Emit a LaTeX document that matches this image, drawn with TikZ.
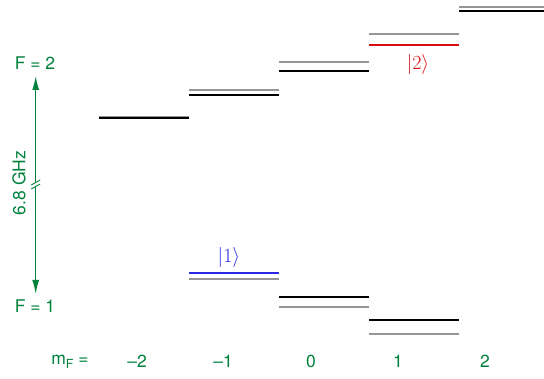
\RequirePackage{fix-cm}
\documentclass[tikz,border=0pt]{standalone}
\usepackage{fontspec}
\setsansfont{TeX Gyre Heros}
\usetikzlibrary{arrows.meta}
\definecolor{lvgreen}{RGB}{0,130,60}
\definecolor{lvred}{RGB}{215,15,20}
\definecolor{lvblue}{RGB}{40,40,230}
\definecolor{lvgray}{RGB}{150,150,150}
\tikzset{
  lvl/.style={line width=2pt},
  lvblack/.style={lvl,draw=black},
  lvgr/.style={lvl,draw=lvgray},
  glabel/.style={text=lvgreen,font=\sffamily\fontsize{17.5}{20}\selectfont,inner sep=0pt},
  ket/.style={font=\fontsize{20}{22}\selectfont,inner sep=0pt},
  garrow/.style={draw=lvgreen,line width=1.4pt},
}
\begin{document}
\begin{tikzpicture}[x=1pt,y=-1pt]
\useasboundingbox (0,0) rectangle (544,379);
% F=2 manifold
\coordinate (a1) at (99,116.7); \coordinate (a2) at (189,116.7);
\coordinate (b1) at (99,118.2); \coordinate (b2) at (189,118.2);
\draw[lvgr] (a1) -- (a2);
\draw[lvblack] (b1) -- (b2);
\coordinate (c1) at (189,89.7); \coordinate (c2) at (279,89.7);
\coordinate (d1) at (189,95); \coordinate (d2) at (279,95);
\draw[lvgr] (c1) -- (c2);
\draw[lvblack] (d1) -- (d2);
\coordinate (e1) at (279,62); \coordinate (e2) at (369,62);
\coordinate (f1) at (279,71); \coordinate (f2) at (369,71);
\draw[lvgr] (e1) -- (e2);
\draw[lvblack] (f1) -- (f2);
\coordinate (g1) at (369,34.3); \coordinate (g2) at (459,34.3);
\coordinate (h1) at (369,45.3); \coordinate (h2) at (459,45.3);
\draw[lvgr] (g1) -- (g2);
\draw[lvl,draw=lvred] (h1) -- (h2);
\coordinate (i1) at (459,6.7); \coordinate (i2) at (544,6.7);
\coordinate (j1) at (459,10.7); \coordinate (j2) at (544,10.7);
\draw[lvgr] (i1) -- (i2);
\draw[lvblack] (j1) -- (j2);
\node[ket,text=lvred] (k2) at (418,65) {$|2\rangle$};
% F=1 manifold
\coordinate (m1) at (189,273.3); \coordinate (m2) at (279,273.3);
\coordinate (n1) at (189,279.3); \coordinate (n2) at (279,279.3);
\draw[lvl,draw=lvblue] (m1) -- (m2);
\draw[lvgr] (n1) -- (n2);
\coordinate (o1) at (279,296.7); \coordinate (o2) at (369,296.7);
\coordinate (p1) at (279,306.7); \coordinate (p2) at (369,306.7);
\draw[lvblack] (o1) -- (o2);
\draw[lvgr] (p1) -- (p2);
\coordinate (q1) at (369,320.3); \coordinate (q2) at (459,320.3);
\coordinate (r1) at (369,334); \coordinate (r2) at (459,334);
\draw[lvblack] (q1) -- (q2);
\draw[lvgr] (r1) -- (r2);
\node[ket,text=lvblue] (k1) at (229,258) {$|1\rangle$};
% green arrow
\node[glabel] (F2) at (35,63) {F = 2};
\node[glabel] (F1) at (35,306) {F = 1};
\coordinate (tp) at (35.7,76);
\coordinate (bt) at (35.7,294);
\coordinate (bu) at (35.7,182.5);
\coordinate (bl) at (35.7,186.5);
\draw[garrow,-{Latex[length=14pt,width=7pt]}] (bu) -- (tp);
\draw[garrow,-{Latex[length=14pt,width=7pt]}] (bl) -- (bt);
\draw[draw=lvgreen,line width=0.9pt] ([shift={(-4.5,2.5)}]bu) -- ([shift={(4.5,-2.5)}]bu);
\draw[draw=lvgreen,line width=0.9pt] ([shift={(-4.5,2.5)}]bl) -- ([shift={(4.5,-2.5)}]bl);
\node[glabel,rotate=90] (ghz) at (19,183) {6.8 GHz};
% bottom labels
\node[glabel] (mf) at (70,361.5) {m\raisebox{-0.4ex}{\fontsize{12.5}{14}\selectfont F} =};
\node[glabel] (l1) at (137,361.5) {\textendash 2};
\node[glabel] (l2) at (223,361.5) {\textendash 1};
\node[glabel] (l3) at (311,361.5) {0};
\node[glabel] (l4) at (398,361.5) {1};
\node[glabel] (l5) at (485,361.5) {2};
\end{tikzpicture}
\end{document}
